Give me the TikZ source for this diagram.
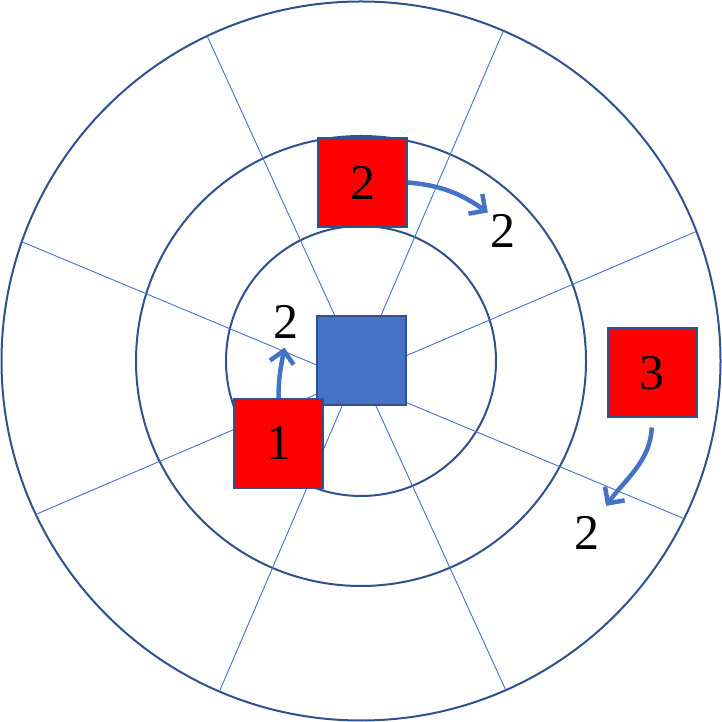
\documentclass[tikz,border=0pt]{standalone}
\usepackage{fontspec}
\setmainfont{Liberation Serif}
\usetikzlibrary{arrows.meta}
\definecolor{ringblue}{HTML}{2F528F}
\definecolor{spokeblue}{HTML}{4472C4}

\begin{document}
\begin{tikzpicture}[x=1pt,y=1pt,
            ring/.style={draw=ringblue,line width=2pt},
            spoke/.style={draw=spokeblue,line width=0.9pt},
            block/.style={draw=ringblue,line width=2pt,fill=red,minimum size=89pt,inner sep=0pt,font=\fontsize{50}{50}\selectfont},
            hub/.style={block,fill=spokeblue},
            tag/.style={inner sep=0pt,font=\fontsize{50}{50}\selectfont},
            move/.style={draw=spokeblue,line width=4.5pt,-{Straight Barb[length=12pt,width=24pt]}}]
            \useasboundingbox (0,0) rectangle (722,722);
            \coordinate (c) at (361,361);
            \draw [ring] (c) circle (359.5pt);
            \draw [ring] (c) circle (225pt);
            \draw [ring] (c) circle (135pt);
            \draw [spoke] (206.7,687) -- (505.7,32);
            \draw [spoke] (503.3,691) -- (219.3,30.3);
            \draw [spoke] (21.7,480.3) -- (683.3,203.7);
            \draw [spoke] (695.7,490.3) -- (36.7,208);
            \node [hub] (hub) at (c) {};
            \node [block] (sq2) at (362.5,539.5) {2};
            \node [block] (sq1) at (278.5,278.5) {1};
            \node [block] (sq3) at (652,349) {3};
            \node [tag] (next2) at (503,491) {2};
            \node [tag] (next1) at (286,400) {2};
            \node [tag] (next3) at (586.5,189.5) {2};
            \draw [move,shorten >=3pt] (sq2.east) to [out=-5,in=145] (next2.north west);
            \draw [move,shorten >=9pt] (sq1.north) to [out=90,in=-100] (next1.south);
            \draw [move,shorten <=9pt,shorten >=12pt] (sq3.south) to [out=-92,in=55] (next3.north east);
        \end{tikzpicture}
\end{document}
